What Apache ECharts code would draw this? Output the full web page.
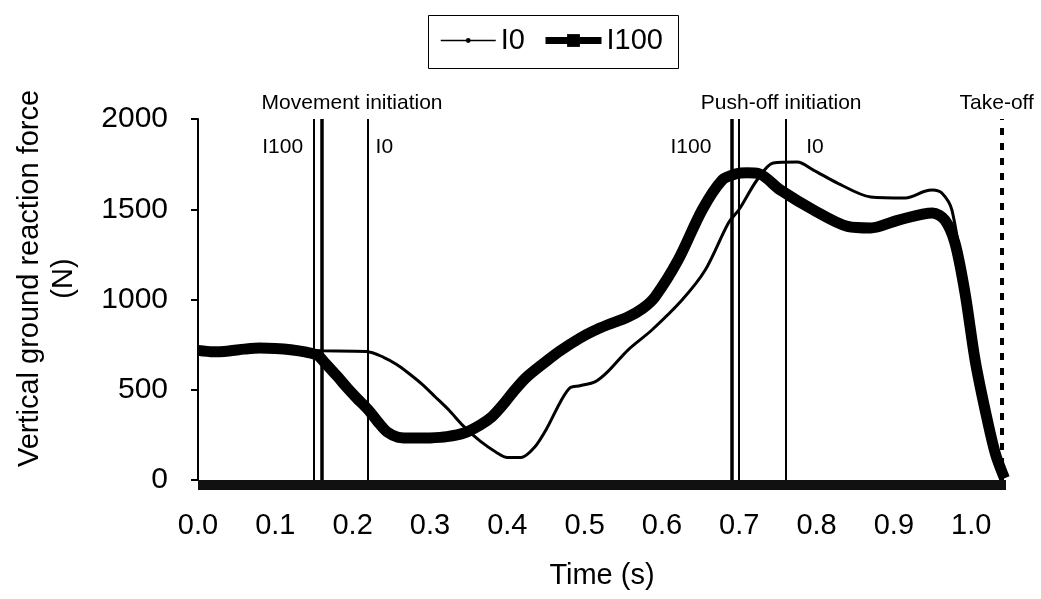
<!DOCTYPE html>
<html>
<head>
<meta charset="utf-8">
<title>Vertical ground reaction force</title>
<script src="https://cdn.jsdelivr.net/npm/echarts@6/dist/echarts.min.js"></script>
<style>
  html, body { margin: 0; padding: 0; background: #fff; }
  #chart { width: 1041px; height: 599px; }
</style>
</head>
<body>
<div id="chart"></div>
<script>
// time (s) and force (N)
var timeI0 = [0.000, 0.040, 0.080, 0.120, 0.160, 0.218, 0.240, 0.257, 0.272, 0.290, 0.307, 0.325, 0.343, 0.365, 0.387, 0.400, 0.418, 0.435, 0.451, 0.468, 0.481, 0.494, 0.514, 0.530, 0.556, 0.587, 0.626, 0.656, 0.686, 0.700, 0.723, 0.744, 0.775, 0.796, 0.827, 0.870, 0.915, 0.940, 0.950, 0.962, 0.975, 0.992, 1.005, 1.018, 1.031, 1.043];
var forceI0 = [716, 715, 725, 720, 716, 712, 680, 640, 593, 530, 460, 385, 300, 215, 150, 125, 125, 180, 285, 427, 510, 522, 545, 600, 720, 831, 997, 1163, 1424, 1500, 1662, 1756, 1762, 1717, 1645, 1568, 1562, 1600, 1607, 1590, 1496, 1060, 690, 400, 160, 10];

var timeI100 = [0.000, 0.020, 0.040, 0.060, 0.080, 0.100, 0.120, 0.140, 0.155, 0.164, 0.180, 0.193, 0.205, 0.220, 0.235, 0.245, 0.258, 0.280, 0.300, 0.322, 0.345, 0.365, 0.380, 0.395, 0.408, 0.425, 0.451, 0.468, 0.494, 0.511, 0.530, 0.556, 0.575, 0.591, 0.621, 0.652, 0.678, 0.695, 0.710, 0.725, 0.753, 0.796, 0.840, 0.870, 0.906, 0.950, 0.966, 0.979, 0.992, 1.005, 1.018, 1.031, 1.043];
var forceI100 = [718, 710, 715, 725, 731, 729, 722, 708, 690, 650, 575, 510, 455, 390, 310, 265, 238, 232, 233, 240, 262, 305, 350, 420, 490, 570, 660, 715, 786, 825, 860, 903, 950, 1014, 1219, 1496, 1662, 1695, 1702, 1698, 1607, 1496, 1405, 1396, 1440, 1479, 1440, 1313, 1036, 665, 388, 150, 10];

var xTicks = ['0.0', '0.1', '0.2', '0.3', '0.4', '0.5', '0.6', '0.7', '0.8', '0.9', '1.0'];

// event times (s)
var moveI100 = [0.1527, 0.1585];
var moveI0 = [0.2206];
var pushI100 = [0.6937, 0.6986];
var pushI0 = [0.7607];
var takeOff = [1.0433];

var font = 'Arial, "Liberation Sans", sans-serif';

function pairs(t, v) {
  var out = [];
  for (var i = 0; i < t.length; i++) out.push([t[i], v[i]]);
  return out;
}

function vline(t, w, dashed) {
  return { xAxis: t, lineStyle: { color: '#000', width: w, type: dashed ? [7, 8] : 'solid' } };
}

var eventLines = [
  vline(moveI100[0], 2), vline(moveI100[1], 3.5), vline(moveI0[0], 2),
  vline(pushI100[0], 3.5), vline(pushI100[1], 2), vline(pushI0[0], 2),
  vline(takeOff[0], 4, true)
];

var legendText = { fontSize: 29, color: '#000', fontFamily: font };

var chart = echarts.init(document.getElementById('chart'));

var option = {
  animation: false,
  backgroundColor: '#fff',
  textStyle: { fontFamily: font, color: '#000' },
  grid: { left: 198, top: 119, right: 35, bottom: 119 },
  legend: [
    {
      data: [{ name: 'I0', lineStyle: { width: 1.5 } }],
      left: 440, top: 26, padding: 0,
      itemWidth: 55, itemHeight: 6,
      textStyle: legendText
    },
    {
      data: [{ name: 'I100', lineStyle: { width: 7 } }],
      left: 542, top: 26, padding: 0,
      itemWidth: 56, itemHeight: 16,
      textStyle: legendText
    }
  ],
  xAxis: {
    type: 'value',
    min: 0,
    max: 1.045,
    interval: 0.1,
    offset: 5,
    name: 'Time (s)',
    nameLocation: 'middle',
    nameGap: 76,
    nameTextStyle: { fontSize: 29, color: '#000', fontFamily: font },
    axisLine: { onZero: false, lineStyle: { color: '#111', width: 10, cap: 'butt' } },
    axisTick: { show: false },
    splitLine: { show: false },
    axisLabel: {
      fontSize: 29, color: '#000', margin: 26, fontFamily: font,
      showMaxLabel: false,
      formatter: function (v) { return xTicks[Math.round(v * 10)] || ''; }
    }
  },
  yAxis: {
    type: 'value',
    min: 0,
    max: 2000,
    interval: 500,
    name: 'Vertical ground reaction force\n(N)',
    nameLocation: 'middle',
    nameRotate: 90,
    nameGap: 117,
    nameTextStyle: { fontSize: 29, color: '#000', fontFamily: font, lineHeight: 34, padding: [0, 0, 0, 42] },
    axisLine: { show: true, lineStyle: { color: '#000', width: 2 } },
    axisTick: { show: true, inside: false, length: 7, lineStyle: { color: '#000', width: 2 } },
    splitLine: { show: false },
    axisLabel: {
      fontSize: 30, color: '#000', margin: 30, fontFamily: font,
      formatter: function (v) { return String(v); }
    }
  },
  series: [
    {
      name: 'I0',
      type: 'line',
      data: pairs(timeI0, forceI0),
      smooth: 0.3,
      symbol: 'circle',
      symbolSize: 5,
      showSymbol: false,
      itemStyle: { color: '#000' },
      lineStyle: { color: '#000', width: 3 },
      z: 3,
      markLine: {
        silent: true,
        symbol: 'none',
        label: { show: false },
        data: eventLines
      }
    },
    {
      name: 'I100',
      type: 'line',
      data: pairs(timeI100, forceI100),
      smooth: 0.3,
      symbol: 'rect',
      symbolSize: 13,
      showSymbol: false,
      itemStyle: { color: '#000' },
      lineStyle: { color: '#000', width: 11 },
      z: 4
    }
  ]
};

chart.setOption(option);

// legend frame and annotation texts above the event lines
function px(t) { return chart.convertToPixel({ xAxisIndex: 0 }, t); }
function txt(x, y, s, size, align) {
  return {
    type: 'text', x: x, y: y, silent: true,
    style: { text: s, fontSize: size, fontFamily: font, fill: '#000', align: align || 'center', verticalAlign: 'middle' }
  };
}
chart.setOption({
  graphic: [
    {
      type: 'rect', silent: true,
      shape: { x: 428.5, y: 15.5, width: 250, height: 53 },
      style: { fill: 'none', stroke: '#000', lineWidth: 1 }
    },
    txt(px(moveI100[0]) + 36, 103, 'Movement initiation', 21),
    txt(px(moveI100[0]) - 13, 147, 'I100', 21, 'right'),
    txt(px(moveI0[0]) + 7, 147, 'I0', 21, 'left'),
    txt(px(pushI0[0]) - 5, 103, 'Push-off initiation', 21),
    txt(px(pushI100[0]) - 23, 147, 'I100', 21, 'right'),
    txt(px(pushI0[0]) + 20, 147, 'I0', 21, 'left'),
    txt(px(takeOff[0]) - 8, 103, 'Take-off', 21)
  ]
});
</script>
</body>
</html>
